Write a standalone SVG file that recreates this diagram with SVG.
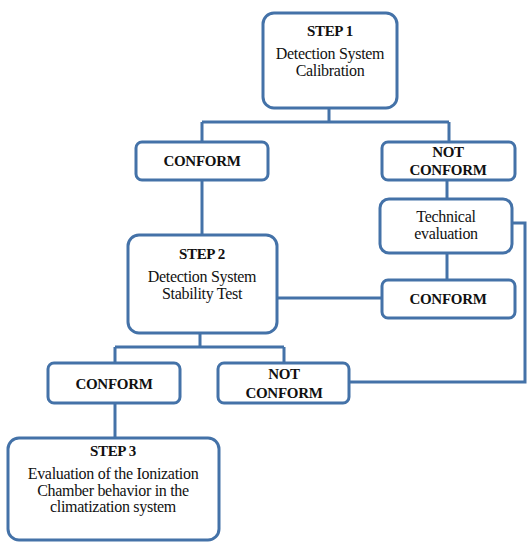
<svg xmlns="http://www.w3.org/2000/svg" width="532" height="544" viewBox="0 0 532 544">
<style>
.box{fill:#fff;stroke:#4472a8;stroke-width:3}
.con{fill:none;stroke:#4472a8;stroke-width:3}
text{font-family:"Liberation Serif","DejaVu Serif","Times New Roman",serif;font-size:16px;fill:#111;text-anchor:middle;letter-spacing:-0.3px}
.b{font-weight:bold;font-size:15px}
</style>
<rect width="532" height="544" fill="#fff"/>
<g id="connectors">
<path class="con" d="M329 108V122M202 122H449M202 122V142M449 122V142"/>
<path class="con" d="M202 180V235"/>
<path class="con" d="M447 180V199"/>
<path class="con" d="M447 253V280"/>
<path class="con" d="M277 298H382"/>
<path class="con" d="M512 223H525V382H350"/>
<path class="con" d="M200 333V347M115 347H284M115 347V363M284 347V363"/>
<path class="con" d="M115 403V438"/>
</g>
<g id="step1">
<rect class="box" x="263" y="13" width="134" height="95" rx="11"/>
<text class="b" x="330" y="36">STEP 1</text>
<text x="330" y="59">Detection System</text>
<text x="330" y="76">Calibration</text>
</g>
<g id="conform1">
<rect class="box" x="136" y="142" width="132" height="38" rx="6"/>
<text class="b" x="202" y="166">CONFORM</text>
</g>
<g id="notconform1">
<rect class="box" x="382" y="142" width="133" height="38" rx="6"/>
<text class="b" x="448" y="157">NOT</text>
<text class="b" x="448" y="175">CONFORM</text>
</g>
<g id="technical">
<rect class="box" x="380" y="199" width="132" height="54" rx="9"/>
<text x="446" y="222">Technical</text>
<text x="446" y="239">evaluation</text>
</g>
<g id="step2">
<rect class="box" x="128" y="235" width="149" height="98" rx="11"/>
<text class="b" x="202" y="259">STEP 2</text>
<text x="202" y="282">Detection System</text>
<text x="202" y="299">Stability Test</text>
</g>
<g id="conform2">
<rect class="box" x="382" y="280" width="133" height="38" rx="6"/>
<text class="b" x="448" y="304">CONFORM</text>
</g>
<g id="conform3">
<rect class="box" x="48" y="363" width="132" height="40" rx="6"/>
<text class="b" x="114" y="389">CONFORM</text>
</g>
<g id="notconform3">
<rect class="box" x="218" y="363" width="131" height="40" rx="6"/>
<text class="b" x="284" y="379">NOT</text>
<text class="b" x="284" y="398">CONFORM</text>
</g>
<g id="step3">
<rect class="box" x="8" y="438" width="211" height="102" rx="11"/>
<text class="b" x="113" y="456">STEP 3</text>
<text x="113" y="479">Evaluation of the Ionization</text>
<text x="113" y="496">Chamber behavior in the</text>
<text x="113" y="512">climatization system</text>
</g>
</svg>
